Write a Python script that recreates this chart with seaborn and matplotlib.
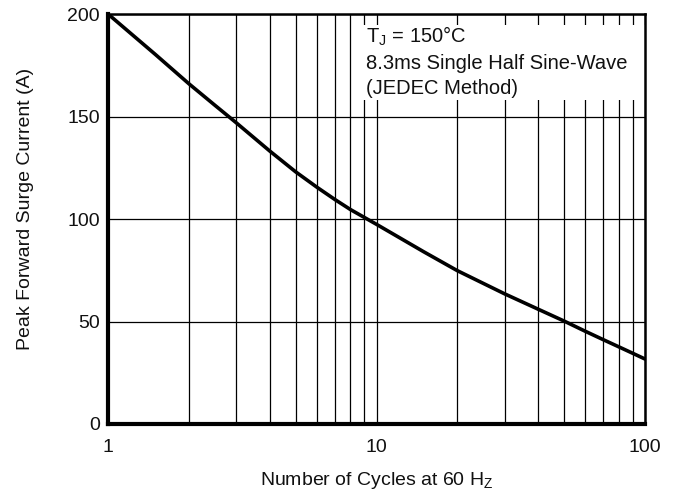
import pandas as pd
import seaborn as sns
import matplotlib.pyplot as plt
from matplotlib.ticker import LogLocator, FixedLocator, NullFormatter
from matplotlib.patches import Rectangle

# values
cycles = [1, 1.5, 2, 2.5, 3, 4, 5, 6, 7, 8, 9, 10, 15, 20, 30, 40, 50, 60, 70, 80, 90, 100]
current = [200, 180.3, 166, 155.5, 147, 133.2, 123, 115.5, 109.5, 104.6, 100.8, 97.4,
           84, 74.8, 63.5, 56, 50.2, 45.2, 41.1, 37.6, 34.5, 31.7]

x_ticks = [1, 10, 100]
x_tick_labels = ['1', '10', '100']
y_ticks = [0, 50, 100, 150, 200]

note = 'T$_\\mathregular{J}$ = 150°C\n8.3ms Single Half Sine-Wave\n(JEDEC Method)'

df = pd.DataFrame({'cycles': cycles, 'current': current})

sns.set_style('white')
plt.rcParams['font.family'] = ['Liberation Sans', 'DejaVu Sans']
plt.rcParams['mathtext.fontset'] = 'custom'
plt.rcParams['mathtext.rm'] = 'Liberation Sans'

fig = plt.figure(figsize=(6.79, 5.01), dpi=100)
ax = fig.add_axes([108 / 679, 77 / 501, 537 / 679, 410 / 501])

sns.lineplot(data=df, x='cycles', y='current', color='black', linewidth=2.6, ax=ax, zorder=3)

ax.set_xscale('log')
ax.set_xlim(1, 100)
ax.set_ylim(0, 200)

ax.xaxis.set_major_locator(FixedLocator(x_ticks))
ax.set_xticklabels(x_tick_labels)
ax.xaxis.set_minor_locator(LogLocator(base=10, subs=range(2, 10)))
ax.xaxis.set_minor_formatter(NullFormatter())
ax.set_yticks(y_ticks)

ax.grid(which='both', axis='x', color='black', linewidth=0.9)
ax.grid(which='major', axis='y', color='black', linewidth=0.9)
ax.set_axisbelow(True)

ax.tick_params(which='both', length=0)
ax.tick_params(axis='x', pad=11, labelsize=14, colors='#111111')
ax.tick_params(axis='y', pad=6, labelsize=14, colors='#111111')

for side in ['left', 'bottom']:
    ax.spines[side].set_linewidth(3.0)
for side in ['top', 'right']:
    ax.spines[side].set_linewidth(1.8)
for s in ax.spines.values():
    s.set_color('black')

ax.set_xlabel('Number of Cycles at 60 H$_\\mathregular{Z}$', fontsize=14, color='#111111')
ax.set_ylabel('Peak Forward Surge Current (A)', fontsize=14, color='#111111')
ax.xaxis.set_label_coords(0.5, -0.112)
ax.yaxis.set_label_coords(-0.138, 0.524)

# white panel behind the note
ax.add_patch(Rectangle((0.473, 0.79), 0.527, 0.183, transform=ax.transAxes,
                       facecolor='white', edgecolor='none', zorder=1))
ax.text(0.480, 0.975, note, transform=ax.transAxes, ha='left', va='top',
        fontsize=14.5, color='#111111', linespacing=1.4, zorder=4)

fig.savefig('out.png', dpi=100)
